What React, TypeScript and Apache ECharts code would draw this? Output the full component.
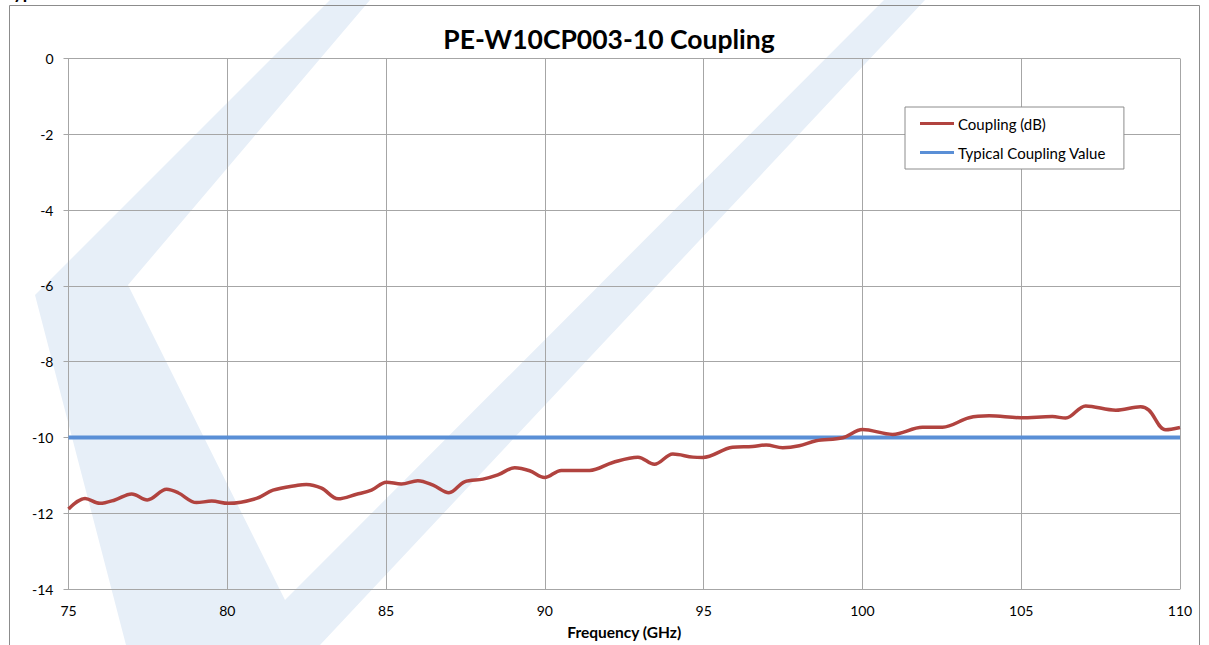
import React, { useEffect, useRef } from "react";
import * as echarts from "echarts";

const chartTitle = "PE-W10CP003-10 Coupling";
const xAxisName = "Frequency (GHz)";
const seriesNames = ["Coupling (dB)", "Typical Coupling Value"];

const frequencies = [
  75.0, 75.52, 75.99, 76.46, 76.99, 77.48, 78.09, 78.45, 79.03, 79.51, 80.03, 80.92,
  81.44, 82.22, 82.49, 82.97, 83.49, 84.07, 84.54, 85.01, 85.48, 86.0, 86.48, 86.98,
  87.47, 88.05, 88.52, 89.05, 89.52, 89.99, 90.52, 91.41, 92.14, 92.93, 93.45, 94.03,
  94.66, 94.97, 95.91, 96.54, 96.97, 97.49, 98.01, 98.54, 99.38, 100.0, 100.95, 101.89,
  102.52, 103.36, 103.99, 104.99, 105.98, 106.4, 107.03, 107.98, 108.76, 109.02, 109.55, 110.0,
];
const coupling = [
  -11.89, -11.61, -11.74, -11.65, -11.49, -11.65, -11.37, -11.46, -11.72, -11.68, -11.74, -11.61,
  -11.39, -11.26, -11.24, -11.34, -11.62, -11.5, -11.39, -11.18, -11.23, -11.14, -11.26, -11.46,
  -11.17, -11.1, -10.99, -10.8, -10.88, -11.06, -10.87, -10.87, -10.66, -10.52, -10.71, -10.44,
  -10.52, -10.53, -10.26, -10.24, -10.2, -10.27, -10.22, -10.09, -10.01, -9.79, -9.92, -9.73,
  -9.73, -9.48, -9.43, -9.48, -9.45, -9.49, -9.17, -9.28, -9.19, -9.28, -9.8, -9.74,
];
const typicalFreq = [75, 110];
const typicalValue = [-10, -10];

export default function App() {
  const ref = useRef<HTMLDivElement>(null);
  useEffect(() => {
    if (!ref.current) return;
    const chart = echarts.init(ref.current, null, { renderer: "svg" });
    const wm = "#E7EFF8";
    const option: any = {
      animation: false,
      backgroundColor: "#ffffff",
      textStyle: { fontFamily: "Lato" },
      graphic: [
        {
          type: "polygon",
          z: -10,
          silent: true,
          shape: {
            points: [
              [330, 0], [35, 295], [126, 645], [320, 645], [925, 0], [884, 0],
              [285, 600], [128, 285], [370, 0],
            ],
          },
          style: { fill: wm },
        },
        {
          type: "rect",
          z: 50,
          silent: true,
          shape: { x: 9.5, y: 5.5, width: 1190, height: 700 },
          style: { fill: "none", stroke: "#8C8C8C", lineWidth: 1 },
        },
        {
          type: "text",
          z: 50,
          x: 609,
          y: 39,
          style: {
            text: chartTitle,
            fill: "#000",
            font: "bold 26.5px Lato",
            textAlign: "center",
            textVerticalAlign: "middle",
          },
        },
        {
          type: "text",
          z: 50,
          x: 4,
          y: -17,
          style: {
            text: "Typical Performance",
            fill: "#000",
            font: "bold 18px Lato",
            textAlign: "left",
            textVerticalAlign: "top",
          },
        },
      ],
      legend: {
        orient: "vertical",
        left: 905,
        top: 107,
        padding: [9, 18, 9, 15],
        itemGap: 14,
        itemWidth: 34,
        itemHeight: 3,
        backgroundColor: "#ffffff",
        borderColor: "#8C8C8C",
        borderWidth: 1,
        borderRadius: 0,
        textStyle: { fontFamily: "Lato", fontSize: 15, color: "#000", padding: [0, 0, 0, -1] },
        data: [
          { name: seriesNames[0], icon: "rect" },
          { name: seriesNames[1], icon: "rect" },
        ],
      },
      grid: { left: 68.5, right: 29, top: 58.5, bottom: 46, containLabel: false },
      xAxis: {
        type: "value",
        min: 75,
        max: 110,
        interval: 5,
        name: xAxisName,
        nameLocation: "middle",
        nameGap: 35,
        nameTextStyle: { fontFamily: "Lato", fontWeight: "bold", fontSize: 15.5, color: "#000" },
        axisLine: { show: true, onZero: false, lineStyle: { color: "#A6A6A6", width: 1 } },
        axisTick: { show: false },
        axisLabel: { margin: 14, fontFamily: "Lato", fontSize: 14, color: "#000" },
        splitLine: { show: true, lineStyle: { color: "#A6A6A6", width: 1 } },
      },
      yAxis: {
        type: "value",
        min: -14,
        max: 0,
        interval: 2,
        axisLine: { show: true, lineStyle: { color: "#A6A6A6", width: 1 } },
        axisTick: { show: true, inside: false, length: 5, lineStyle: { color: "#A6A6A6" } },
        axisLabel: { margin: 15, fontFamily: "Lato", fontSize: 14, color: "#000" },
        splitLine: { show: true, lineStyle: { color: "#A6A6A6", width: 1 } },
      },
      series: [
        {
          name: seriesNames[1],
          type: "line",
          data: typicalFreq.map((f, i) => [f, typicalValue[i]]),
          showSymbol: false,
          symbol: "none",
          lineStyle: { color: "#5A8FD6", width: 4 },
          itemStyle: { color: "#5A8FD6" },
          z: 3,
        },
        {
          name: seriesNames[0],
          type: "line",
          data: frequencies.map((f, i) => [f, coupling[i]]),
          smooth: 0.35,
          showSymbol: false,
          symbol: "none",
          lineStyle: { color: "#B1433F", width: 3.5 },
          itemStyle: { color: "#B1433F" },
          z: 4,
        },
      ],
    };
    chart.setOption(option);
    return () => chart.dispose();
  }, []);
  return (
    <div
      ref={ref}
      style={{ position: "fixed", left: 0, top: 0, width: 1209, height: 645 }}
    />
  );
}
